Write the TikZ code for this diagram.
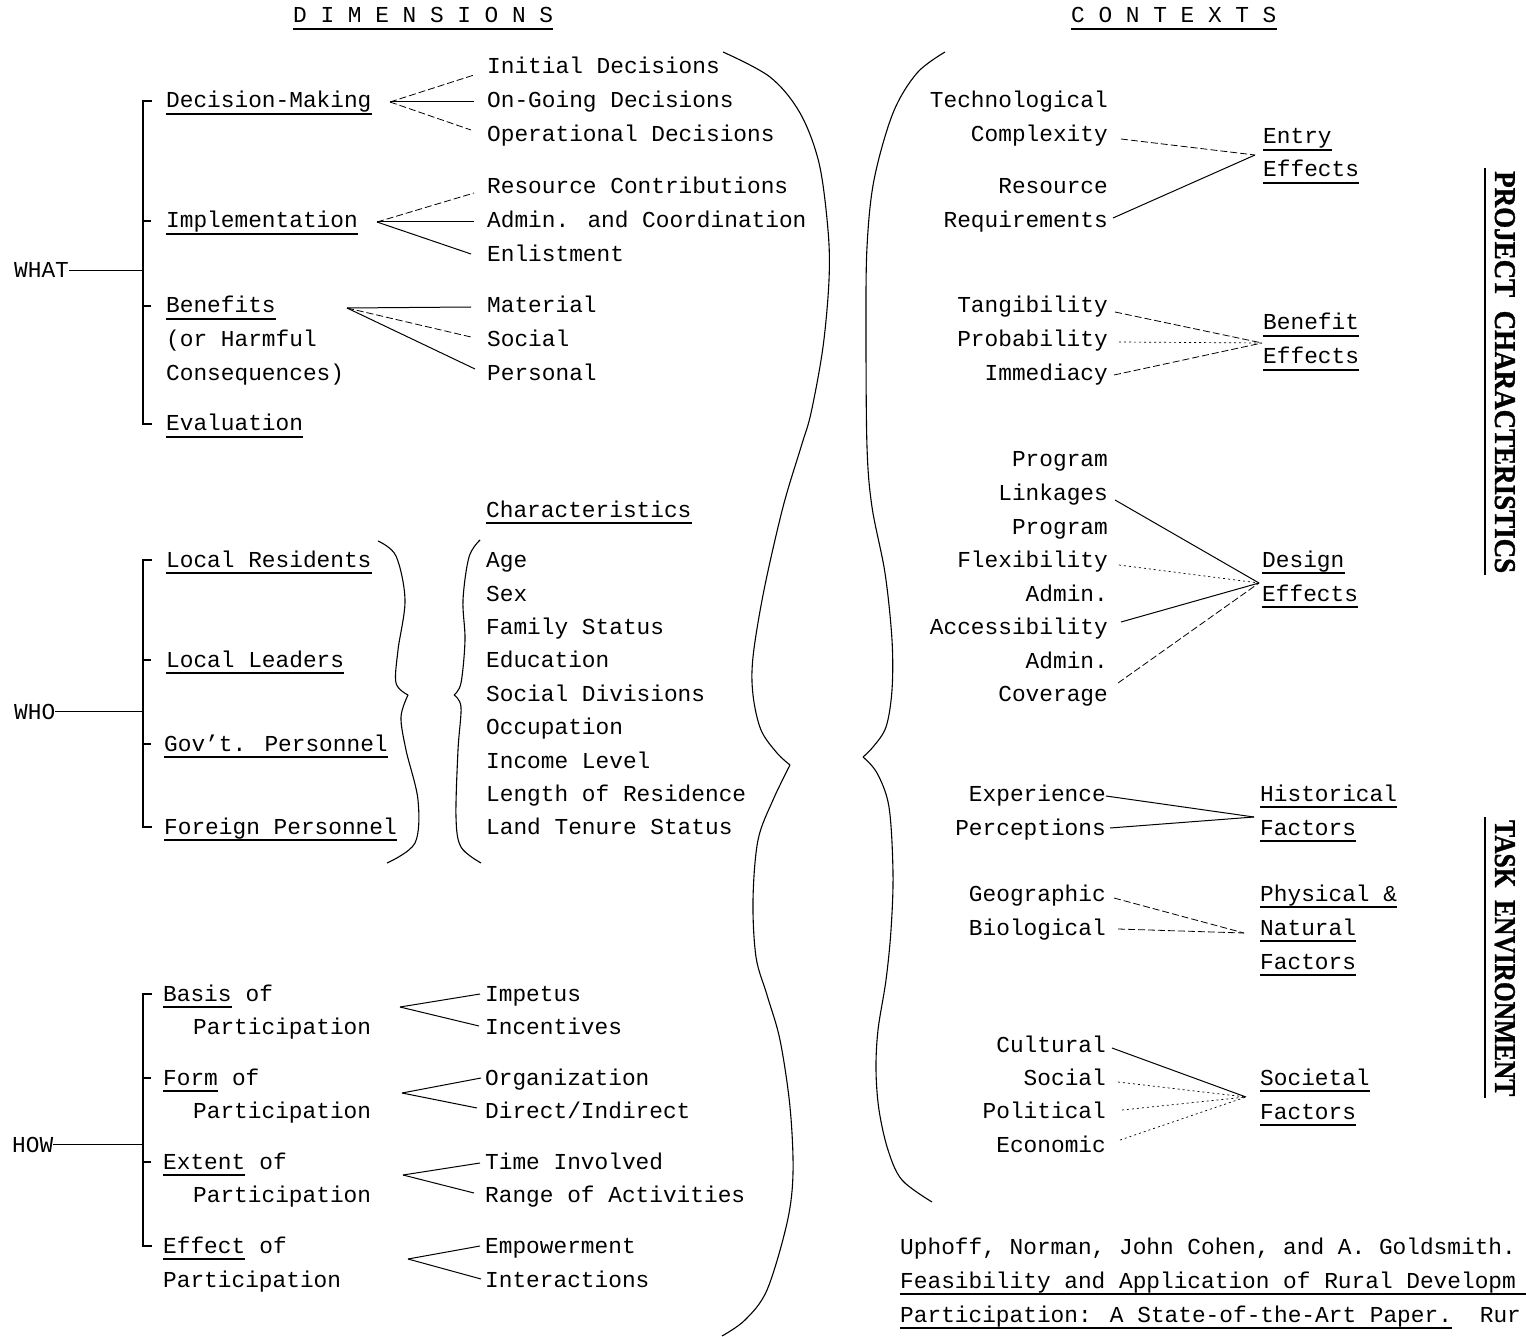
\documentclass[tikz,border=0pt]{standalone}
\usepackage{fontspec}
\newfontfamily\tw{Liberation Mono}
\newfontfamily\tmsb{Liberation Serif Bold}[FakeBold=1.2]
\usetikzlibrary{calc}
\tikzset{
  tx/.style={font={\tw\fontsize{22.8pt}{27pt}\selectfont}, inner sep=0pt, anchor=base west},
  txr/.style={tx, anchor=base east},
  ln/.style={line width=1pt},
  fnt/.style={line width=0.8pt, dash pattern=on 7pt off 3pt},
  dot/.style={line width=0.7pt, dash pattern=on 2pt off 3pt},
  ul/.style={line width=1.6pt},
  br/.style={line width=1.2pt},
  brace/.style={line width=1.1pt, smooth, tension=0.55},
  vlab/.style={inner sep=0pt, anchor=base west, rotate=-90},
}
\begin{document}
\begin{tikzpicture}[x=1pt,y=-1pt]
\useasboundingbox (0,0) rectangle (1526,1337);
\clip (0,0) rectangle (1526,1337);
\fill[white] (0,0) rectangle (1526,1337);

% titles
\node[tx] (dims) at (293,23) {D I M E N S I O N S};
\node[tx] (ctx) at (1071,23) {C O N T E X T S};

% ---------------- WHAT ----------------
\node[tx] (what) at (14,278) {WHAT};
\node[tx] (dm) at (166,108) {Decision-Making};
\node[tx] (impl) at (166,228) {Implementation};
\node[tx] (ben) at (166,313) {Benefits};
\node[tx] (orh) at (166,347) {(or Harmful};
\node[tx] (cons) at (166,381) {Consequences)};
\node[tx] (eval) at (166,431) {Evaluation};

\node[tx] (ini) at (487,74) {Initial Decisions};
\node[tx] (ong) at (487,108) {On-Going Decisions};
\node[tx] (opr) at (487,142) {Operational Decisions};
\node[tx] (res) at (487,194) {Resource Contributions};
\node[tx] (adm) at (487,228) {Admin. and Coordination};
\node[tx] (enl) at (487,262) {Enlistment};
\node[tx] (mat) at (487,313) {Material};
\node[tx] (soc) at (487,347) {Social};
\node[tx] (prs) at (487,381) {Personal};

\coordinate (wt) at (143,101);
\coordinate (wb) at (143,424);
\draw[br] (152,101) -- (wt) -- (wb) -- (152,424);
\draw[br] (143,221) -- (151,221);
\draw[br] (143,306) -- (151,306);
\draw[ln] (what.east) -- (what.east -| wt);

\coordinate (vdm) at (390,102);
\draw[fnt] (vdm) -- ($(ini.base west)+(-13,1)$);
\draw[ln]  (vdm) -- ($(ong.base west)+(-13,-6)$);
\draw[fnt] (vdm) -- ($(opr.base west)+(-16,-12)$);
\coordinate (vim) at (377,222);
\draw[fnt] (vim) -- ($(res.base west)+(-13,-1)$);
\draw[ln]  (vim) -- ($(adm.base west)+(-13,-6)$);
\draw[ln]  (vim) -- ($(enl.base west)+(-16,-8)$);
\coordinate (vbe) at (347,308);
\draw[ln]  (vbe) -- ($(mat.base west)+(-16,-6)$);
\draw[fnt] (vbe) -- ($(soc.base west)+(-16,-10)$);
\draw[ln]  (vbe) -- ($(prs.base west)+(-12,-12)$);

% ---------------- WHO ----------------
\node[tx] (who) at (14,719) {WHO};
\node[tx] (lr) at (166,567) {Local Residents};
\node[tx] (ll) at (166,667) {Local Leaders};
\node[tx] (gp) at (164,751) {Gov’t. Personnel};
\node[tx] (fp) at (164,834) {Foreign Personnel};

\coordinate (ot) at (143,560);
\coordinate (ob) at (143,827);
\draw[br] (152,560) -- (ot) -- (ob) -- (152,827);
\draw[br] (143,660) -- (151,660);
\draw[br] (143,744) -- (151,744);
\draw[ln] (who.east) -- (who.east -| ot);

\node[tx] (chr) at (486,517) {Characteristics};
\node[tx] (c1) at (486,567) {Age};
\node[tx] (c2) at (486,601) {Sex};
\node[tx] (c3) at (486,634) {Family Status};
\node[tx] (c4) at (486,667) {Education};
\node[tx] (c5) at (486,701) {Social Divisions};
\node[tx] (c6) at (486,734) {Occupation};
\node[tx] (c7) at (486,768) {Income Level};
\node[tx] (c8) at (486,801) {Length of Residence};
\node[tx] (c9) at (486,834) {Land Tenure Status};

\draw[brace] plot coordinates {(378,541) (396,556) (405,600) (398,650) (396,683) (408,695)};
\draw[brace] plot coordinates {(408,695) (401,717) (406,750) (418,800) (415,843) (387,863)};
\draw[brace] plot coordinates {(480,540) (469,557) (463,600) (465,640) (461,683) (454,695)};
\draw[brace] plot coordinates {(454,695) (461,707) (458,750) (456,817) (461,847) (481,863)};

% ---------------- HOW ----------------
\node[tx] (how) at (12,1152) {HOW};
\node[tx] (bas) at (163,1001) {Basis};
\node[tx] (baso) at ($(bas.base east)+(13.7,0)$) {of};
\node[tx] (basp) at (193,1034) {Participation};
\node[tx] (frm) at (163,1085) {Form};
\node[tx] (frmo) at ($(frm.base east)+(13.7,0)$) {of};
\node[tx] (frmp) at (193,1118) {Participation};
\node[tx] (ext) at (163,1169) {Extent};
\node[tx] (exto) at ($(ext.base east)+(13.7,0)$) {of};
\node[tx] (extp) at (193,1202) {Participation};
\node[tx] (eff) at (163,1253) {Effect};
\node[tx] (effo) at ($(eff.base east)+(13.7,0)$) {of};
\node[tx] (effp) at (163,1287) {Participation};

\node[tx] (imp) at (485,1001) {Impetus};
\node[tx] (inc) at (485,1034) {Incentives};
\node[tx] (org) at (485,1085) {Organization};
\node[tx] (dir) at (485,1118) {Direct/Indirect};
\node[tx] (tim) at (485,1169) {Time Involved};
\node[tx] (rng) at (485,1202) {Range of Activities};
\node[tx] (emp) at (485,1253) {Empowerment};
\node[tx] (int) at (485,1287) {Interactions};

\coordinate (ht) at (143,994);
\coordinate (hb) at (143,1246);
\draw[br] (152,994) -- (ht) -- (hb) -- (152,1246);
\draw[br] (143,1078) -- (151,1078);
\draw[br] (143,1162) -- (151,1162);
\draw[ln] (how.east) -- (how.east -| ht);

\coordinate (vba) at (400,1007);
\draw[ln] (vba) -- ($(imp.base west)+(-5,-7)$);
\draw[ln] (vba) -- ($(inc.base west)+(-6,-8)$);
\coordinate (vfo) at (402,1093);
\draw[ln] (vfo) -- ($(org.base west)+(-4,-7)$);
\draw[ln] (vfo) -- ($(dir.base west)+(-8,-10)$);
\coordinate (vex) at (403,1175);
\draw[ln] (vex) -- ($(tim.base west)+(-5,-6)$);
\draw[ln] (vex) -- ($(rng.base west)+(-11,-9)$);
\coordinate (vef) at (408,1259);
\draw[ln] (vef) -- ($(emp.base west)+(-5,-7)$);
\draw[ln] (vef) -- ($(int.base west)+(-4,-8)$);

% ---------------- big braces ----------------
\draw[brace] plot coordinates {(723,52) (770,77) (800,113) (819,163) (828,230) (829,280) (823,347) (811,413) (801,447) (783,507) (764,590) (753,657) (753,695) (761,730) (777,753) (790,765)};
\draw[brace] plot coordinates {(790,765) (773,800) (758,840) (753,900) (756,957) (767,995) (780,1040) (790,1107) (793,1173) (787,1223) (767,1290) (745,1320) (722,1336)};
\draw[brace] plot coordinates {(945,52) (917,73) (893,113) (874,180) (867,247) (866,330) (867,447) (872,507) (885,573) (892,640) (892,690) (886,727) (873,747) (863,757)};
\draw[brace] plot coordinates {(863,757) (877,773) (889,807) (893,873) (891,930) (886,980) (878,1030) (876,1070) (879,1110) (888,1150) (902,1180) (932,1202)};

% ---------------- CONTEXTS ----------------
\node[txr] (tec) at (1108,108) {Technological};
\node[txr] (cmp) at (1108,142) {Complexity};
\node[txr] (rsc) at (1108,194) {Resource};
\node[txr] (req) at (1108,228) {Requirements};
\node[tx] (ent) at (1263,144) {Entry};
\node[tx] (ee) at (1263,177) {Effects};
\coordinate (ve) at (1255,155);
\draw[fnt] ($(cmp.base east)+(13,-3)$) -- (ve);
\draw[ln]  ($(req.base east)+(5,-10)$) -- (ve);

\node[txr] (tan) at (1108,313) {Tangibility};
\node[txr] (prb) at (1108,347) {Probability};
\node[txr] (imm) at (1108,381) {Immediacy};
\node[tx] (bf) at (1263,330) {Benefit};
\node[tx] (be) at (1263,364) {Effects};
\coordinate (vb) at (1262,343);
\draw[fnt] ($(tan.base east)+(7,-1)$) -- (vb);
\draw[dot] ($(prb.base east)+(11,-5)$) -- (vb);
\draw[fnt] ($(imm.base east)+(6,-6)$) -- (vb);

\node[txr] (pg1) at (1108,466) {Program};
\node[txr] (lnk) at (1108,500) {Linkages};
\node[txr] (pg2) at (1108,534) {Program};
\node[txr] (flx) at (1108,567) {Flexibility};
\node[txr] (ad1) at (1108,601) {Admin.};
\node[txr] (acc) at (1108,634) {Accessibility};
\node[txr] (ad2) at (1108,668) {Admin.};
\node[txr] (cov) at (1108,701) {Coverage};
\node[tx] (dsg) at (1262,567) {Design};
\node[tx] (de) at (1262,601) {Effects};
\coordinate (vd) at (1259,583);
\draw[ln]  ($(lnk.base east)+(7,0)$) -- (vd);
\draw[dot] ($(flx.base east)+(11,-2)$) -- (vd);
\draw[ln]  ($(acc.base east)+(13,-12)$) -- (vd);
\draw[fnt] ($(cov.base east)+(10,-18)$) -- (vd);

\node[txr] (exp) at (1106,801) {Experience};
\node[txr] (per) at (1106,835) {Perceptions};
\node[tx] (his) at (1260,801) {Historical};
\node[tx] (hf) at (1260,835) {Factors};
\coordinate (vh) at (1254,817);
\draw[ln] ($(exp.base east)+(0,-5)$) -- (vh);
\draw[ln] ($(per.base east)+(4,-7)$) -- (vh);

\node[txr] (geo) at (1106,901) {Geographic};
\node[txr] (bio) at (1106,935) {Biological};
\node[tx] (phy) at (1260,901) {Physical \&};
\node[tx] (nat) at (1260,935) {Natural};
\node[tx] (nf) at (1260,969) {Factors};
\coordinate (vn) at (1244,933);
\draw[fnt] ($(geo.base east)+(8,-3)$) -- (vn);
\draw[fnt] ($(bio.base east)+(12,-6)$) -- (vn);

\node[txr] (cul) at (1106,1052) {Cultural};
\node[txr] (so2) at (1106,1085) {Social};
\node[txr] (pol) at (1106,1118) {Political};
\node[txr] (eco) at (1106,1152) {Economic};
\node[tx] (sct) at (1260,1085) {Societal};
\node[tx] (sf) at (1260,1119) {Factors};
\coordinate (vs) at (1246,1097);
\draw[ln]  ($(cul.base east)+(6,-4)$) -- (vs);
\draw[dot] ($(so2.base east)+(12,-3)$) -- (vs);
\draw[dot] ($(pol.base east)+(16,-8)$) -- (vs);
\draw[dot] ($(eco.base east)+(14,-12)$) -- (vs);

% vertical labels
\node[vlab] (pc) at (1495,171) {\resizebox{402pt}{20pt}{\tmsb PROJECT\ \ CHARACTERISTICS}};
\node[vlab] (te) at (1495,820) {\resizebox{276pt}{20pt}{\tmsb TASK\ \ ENVIRONMENT}};
\draw[ul] ($(pc.base west)+(-10,-3)$) -- ($(pc.base east)+(-10,2)$);
\draw[ul] ($(te.base west)+(-10,-3)$) -- ($(te.base east)+(-10,2)$);

% citation
\node[tx] (cit1) at (900,1254) {Uphoff, Norman, John Cohen, and A. Goldsmith.};
\node[tx] (cit2) at (900,1288) {Feasibility and Application of Rural Developm};
\node[tx] (cit3) at (900,1322) {Participation: A State-of-the-Art Paper.};
\node[tx] (cit4) at ($(cit3.base east)+(27.4,0)$) {Rur};

% underlines
\foreach \n in {dims,ctx,dm,impl,ben,eval,lr,ll,gp,fp,chr,bas,frm,ext,eff,ent,ee,bf,be,dsg,de,his,hf,phy,nat,nf,sct,sf,cit3}
  \draw[ul] ($(\n.base west)+(0,6)$) -- ($(\n.base east)+(0,6)$);
\draw[ul] ($(cit2.base west)+(0,6)$) -- (1526,1294);
\end{tikzpicture}
\end{document}
